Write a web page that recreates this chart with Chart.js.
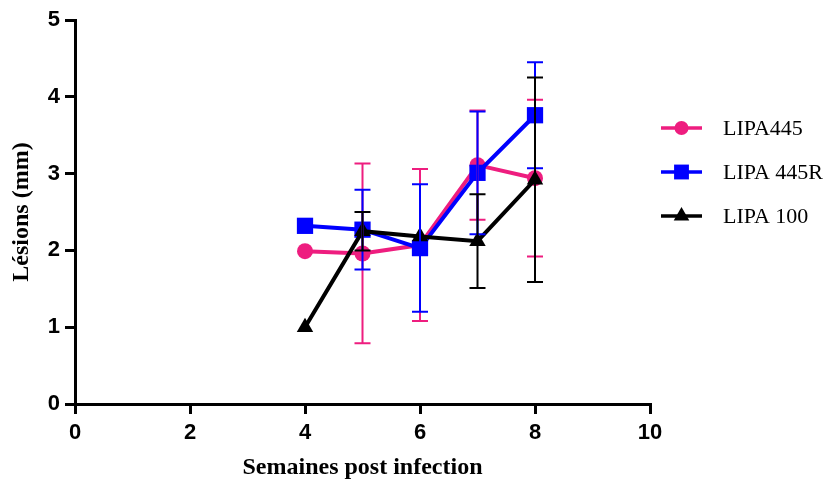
<!DOCTYPE html>
<html lang="fr">
<head>
<meta charset="utf-8">
<title>Lésions</title>
<script src="https://cdn.jsdelivr.net/npm/chart.js@4/dist/chart.umd.min.js"></script>
<style>
  html, body { margin: 0; padding: 0; background: #fff; }
  #grafico { display: block; }
</style>
</head>
<body>
<canvas id="grafico" width="829" height="484"></canvas>
<script>
"use strict";

/* ── DONNÉES ────────────────────────────── */
const semaines    = [4, 5, 6, 7, 8];
const lipa445     = [1.99, 1.96, 2.07, 3.11, 2.94];
const lipa445Err  = [0,    1.17, 0.99, 0.71, 1.02];
const lipa445R    = [2.32, 2.27, 2.03, 3.01, 3.76];
const lipa445RErr = [0,    0.52, 0.83, 0.80, 0.69];
const lipa100     = [1.00, 2.25, 2.18, 2.12, 2.92];
const lipa100Err  = [0,    0.25, 0,    0.61, 1.33];
const xTicks      = [0, 2, 4, 6, 8, 10];
const yTicks      = [0, 1, 2, 3, 4, 5];

const ROSE = "#ee1d7f";
const BLEU = "#0000ff";
const NOIR = "#000000";

const series = [
  { nom: "LIPA445",   valeurs: lipa445,  erreurs: lipa445Err,  couleur: ROSE, forme: "circle",   r: 8,    rLeg: 7 },
  { nom: "LIPA 445R", valeurs: lipa445R, erreurs: lipa445RErr, couleur: BLEU, forme: "rect",     r: 11.5, rLeg: 10.5 },
  { nom: "LIPA 100",  valeurs: lipa100,  erreurs: lipa100Err,  couleur: NOIR, forme: "triangle", r: 9.5,  rLeg: 9 },
];

/* ── MARQUEURS ──────────────────────────── */
function marqueur(ctx, forme, x, y, r) {
  ctx.beginPath();
  if (forme === "circle") {
    ctx.arc(x, y, r, 0, Math.PI * 2);
  } else if (forme === "rect") {
    const s = r * Math.SQRT1_2;
    ctx.rect(x - s, y - s, 2 * s, 2 * s);
  } else {
    const c = r * 1.5 / 3;
    const half = r * Math.sqrt(3) / 2;
    ctx.moveTo(x, y - 2 * c);
    ctx.lineTo(x + half, y + c);
    ctx.lineTo(x - half, y + c);
    ctx.closePath();
  }
  ctx.fill();
}

/* ── BARRES D'ERREUR ────────────────────── */
const barresErreur = {
  id: "barresErreur",
  afterDatasetsDraw(chart) {
    const ctx = chart.ctx;
    const xs = chart.scales.x, ys = chart.scales.y;
    ctx.save();
    ctx.lineWidth = 2;
    series.forEach(s => {
      ctx.strokeStyle = s.couleur;
      semaines.forEach((w, i) => {
        const e = s.erreurs[i];
        if (!e) return;
        const px = xs.getPixelForValue(w);
        const yHaut = ys.getPixelForValue(s.valeurs[i] + e);
        const yBas  = ys.getPixelForValue(s.valeurs[i] - e);
        ctx.beginPath();
        ctx.moveTo(px, yHaut); ctx.lineTo(px, yBas);
        ctx.moveTo(px - 8, yHaut); ctx.lineTo(px + 8, yHaut);
        ctx.moveTo(px - 8, yBas);  ctx.lineTo(px + 8, yBas);
        ctx.stroke();
      });
    });
    ctx.restore();
  }
};

/* ── LÉGENDE ────────────────────────────── */
const legende = {
  id: "legende",
  afterDraw(chart) {
    const ctx = chart.ctx;
    ctx.save();
    series.forEach((s, i) => {
      const y = 128 + i * 44;
      ctx.strokeStyle = s.couleur;
      ctx.fillStyle = s.couleur;
      ctx.lineWidth = 3.5;
      ctx.beginPath();
      ctx.moveTo(661, y); ctx.lineTo(702, y);
      ctx.stroke();
      marqueur(ctx, s.forme, 681.5, y, s.rLeg);
      ctx.fillStyle = "#000";
      ctx.font = "22px 'Liberation Serif'";
      ctx.textBaseline = "middle";
      ctx.fillText(s.nom, 723, y + 1);
    });
    ctx.restore();
  }
};

/* ── GRAPHIQUE ──────────────────────────── */
const fonteTicks = { family: "'Liberation Sans'", size: 22, weight: "bold" };
const fonteTitre = { family: "'Liberation Serif'", size: 24, weight: "bold" };

new Chart(document.getElementById("grafico").getContext("2d"), {
  type: "scatter",
  data: {
    datasets: series.map((s, i) => ({
      label: s.nom,
      data: semaines.map((w, j) => ({ x: w, y: s.valeurs[j] })),
      showLine: true,
      borderColor: s.couleur,
      backgroundColor: s.couleur,
      borderWidth: 4,
      pointStyle: s.forme,
      pointRadius: s.r,
      pointBorderWidth: 0,
      order: series.length - i,
    }))
  },
  options: {
    responsive: false,
    animation: false,
    layout: { padding: { top: 20, right: 179, bottom: 0, left: 0 } },
    plugins: { legend: { display: false }, tooltip: { enabled: false } },
    scales: {
      x: {
        type: "linear",
        min: 0, max: 10,
        afterBuildTicks: sc => { sc.ticks = xTicks.map(v => ({ value: v })); },
        afterFit: sc => { sc.height = 80; },
        ticks: { color: "#000", font: fonteTicks, padding: 6 },
        grid: { drawOnChartArea: false, tickLength: 10, color: "#000", lineWidth: 3 },
        border: { color: "#000", width: 3 },
        title: { display: true, text: "Semaines post infection", color: "#000", font: fonteTitre, padding: { top: 0, bottom: 2 } }
      },
      y: {
        min: 0, max: 5,
        afterBuildTicks: sc => { sc.ticks = yTicks.map(v => ({ value: v })); },
        afterFit: sc => { sc.width = 75; },
        ticks: { color: "#000", font: fonteTicks, padding: 5 },
        grid: { drawOnChartArea: false, tickLength: 10, color: "#000", lineWidth: 3 },
        border: { color: "#000", width: 3 },
        title: { display: true, text: "Lésions (mm)", color: "#000", font: fonteTitre, padding: { top: 7, bottom: 0 } }
      }
    }
  },
  plugins: [barresErreur, legende]
});
</script>
</body>
</html>
